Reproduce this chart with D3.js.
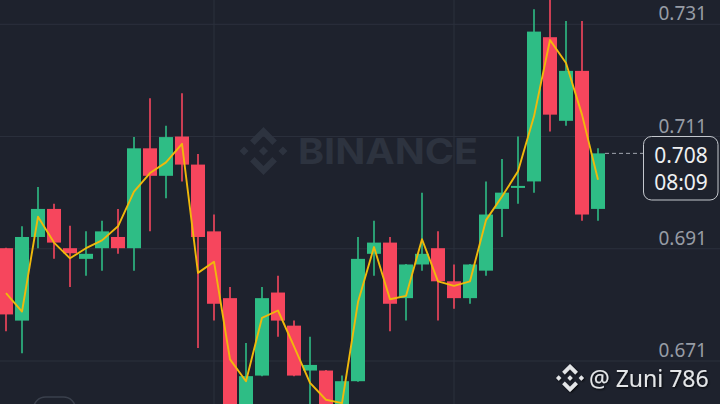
<!DOCTYPE html>
<html>
<head>
<meta charset="utf-8">
<script src="https://cdn.jsdelivr.net/npm/d3@7"></script>
<style>
body { margin: 0; background: #1e222d; overflow: hidden; }
svg { display: block; }
</style>
</head>
<body>
<div id="canvas"></div>
<script>
var width = 720,
	height = 404;

// candle data (oldest first)
var opens  = [0.6911, 0.6782, 0.6931, 0.6981, 0.6911, 0.6892, 0.6911, 0.6931, 0.6911, 0.7089,
              0.7040, 0.7110, 0.7060, 0.6941, 0.6822, 0.6628, 0.6684, 0.6832, 0.6773, 0.6693,
              0.6693, 0.6625, 0.6674, 0.6901, 0.6921, 0.6822, 0.6882, 0.6911, 0.6852, 0.6822,
              0.6871, 0.6981, 0.7020, 0.7030, 0.7287, 0.7138, 0.7227, 0.6981];
var highs  = [0.6912, 0.6950, 0.7020, 0.6990, 0.6951, 0.6941, 0.6960, 0.6981, 0.7109, 0.7178,
              0.7129, 0.7187, 0.7079, 0.6971, 0.6842, 0.6742, 0.6842, 0.6862, 0.6782, 0.6753,
              0.6694, 0.6684, 0.6931, 0.6960, 0.6931, 0.6883, 0.7010, 0.6941, 0.6882, 0.6883,
              0.7030, 0.7070, 0.7110, 0.7337, 0.7355, 0.7316, 0.7316, 0.7089];
var lows   = [0.6763, 0.6724, 0.6911, 0.6892, 0.6842, 0.6862, 0.6871, 0.6901, 0.6871, 0.6941,
              0.7000, 0.7030, 0.6733, 0.6782, 0.6598, 0.6612, 0.6683, 0.6753, 0.6683, 0.6630,
              0.6605, 0.6615, 0.6673, 0.6862, 0.6763, 0.6782, 0.6871, 0.6782, 0.6803, 0.6812,
              0.6862, 0.6931, 0.6990, 0.7010, 0.7119, 0.7129, 0.6960, 0.6960];
var closes = [0.6793, 0.6931, 0.6981, 0.6921, 0.6902, 0.6901, 0.6941, 0.6911, 0.7089, 0.7040,
              0.7109, 0.7060, 0.6931, 0.6812, 0.6615, 0.6683, 0.6822, 0.6782, 0.6684, 0.6703,
              0.6618, 0.6674, 0.6892, 0.6921, 0.6812, 0.6882, 0.6901, 0.6852, 0.6822, 0.6882,
              0.6971, 0.7010, 0.7022, 0.7297, 0.7149, 0.7227, 0.6971, 0.7080];
// yellow average line
var maLine = [0.6831, 0.6798, 0.6967, 0.6921, 0.6893, 0.6911, 0.6925, 0.6950, 0.7012, 0.7045,
              0.7064, 0.7097, 0.6867, 0.6887, 0.6713, 0.6674, 0.6787, 0.6800, 0.6736, 0.6671,
              0.6641, 0.6635, 0.6815, 0.6913, 0.6820, 0.6826, 0.6927, 0.6852, 0.6844, 0.6852,
              0.6961, 0.7003, 0.7048, 0.7146, 0.7282, 0.7241, 0.7149, 0.7033];

var priceTicks = [0.671, 0.691, 0.711, 0.731];
var timeTickIdx = [13, 28];
var lastPrice = "0.708",
	countdown = "08:09";

var green = "#2ebd85",
	red = "#f6465d",
	bg = "#1e222d",
	gridColor = "#2b303c";

var svg = d3.select("#canvas").append("svg")
	.attr("width", width)
	.attr("height", height)
	.style("background-color", bg)

var defs = svg.append("defs");
var shadow = defs.append("filter")
	.attr("id", "shadow")
	.attr("x", "-10%").attr("y", "-30%")
	.attr("width", "130%").attr("height", "160%");
shadow.append("feDropShadow")
	.attr("dx", 1).attr("dy", 1)
	.attr("stdDeviation", 0.8)
	.attr("flood-color", "#000")
	.attr("flood-opacity", 0.8)

var x = d3.scaleLinear().domain([0, opens.length - 1]).range([6, 598]);
var y = d3.scaleLinear().domain([0.671, 0.731]).range([361, 24.3]);
var bodyW = 14;

// grid
svg.selectAll(".hgrid")
	.data(priceTicks)
	.enter()
	.append("line")
	.attr("x1", 0).attr("x2", width)
	.attr("y1", function(d){ return y(d) }).attr("y2", function(d){ return y(d) })
	.attr("stroke", gridColor).attr("stroke-width", 1)

svg.selectAll(".vgrid")
	.data(timeTickIdx)
	.enter()
	.append("line")
	.attr("x1", function(d){ return x(d) }).attr("x2", function(d){ return x(d) })
	.attr("y1", 0).attr("y2", height)
	.attr("stroke", gridColor).attr("stroke-width", 1)

// binance logo
function logoPath(cx, cy, s){
	var shapes = [
		[[0,-1],[0.56,-0.44],[0.37,-0.25],[0,-0.62],[-0.37,-0.25],[-0.56,-0.44]],
		[[0,1],[0.56,0.44],[0.37,0.25],[0,0.62],[-0.37,0.25],[-0.56,0.44]],
		[[0,-0.19],[0.19,0],[0,0.19],[-0.19,0]],
		[[-1,0],[-0.81,-0.19],[-0.62,0],[-0.81,0.19]],
		[[1,0],[0.81,-0.19],[0.62,0],[0.81,0.19]]
	];
	return shapes.map(function(p){
		return "M" + p.map(function(q){ return (cx + q[0]*s) + "," + (cy + q[1]*s) }).join("L") + "Z";
	}).join("");
}

// watermark
svg.append("path")
	.attr("d", logoPath(263.5, 151, 24))
	.attr("fill", "#2d333f")
svg.append("text")
	.attr("x", 298).attr("y", 163.5)
	.attr("textLength", 180)
	.attr("lengthAdjust", "spacingAndGlyphs")
	.style("font-family", "Inter, Roboto, sans-serif")
	.style("font-weight", 700)
	.style("font-size", "36px")
	.attr("fill", "#2d333f")
	.text("BINANCE")

// candles
var candles = svg.selectAll(".candle")
	.data(opens.map(function(o, i){
		return { i: i, o: o, h: highs[i], l: lows[i], c: closes[i] }
	}))
	.enter()
	.append("g")
	.classed("candle", true)

candles.append("line")
	.attr("x1", function(d){ return x(d.i) }).attr("x2", function(d){ return x(d.i) })
	.attr("y1", function(d){ return y(d.h) }).attr("y2", function(d){ return y(d.l) })
	.attr("stroke", function(d){ return d.c >= d.o ? green : red })
	.attr("stroke-width", 1.6)

candles.append("rect")
	.attr("x", function(d){ return x(d.i) - bodyW/2 })
	.attr("width", bodyW)
	.attr("y", function(d){ return y(Math.max(d.o, d.c)) })
	.attr("height", function(d){ return Math.max(2, Math.abs(y(d.o) - y(d.c))) })
	.attr("fill", function(d){ return d.c >= d.o ? green : red })

// average line
svg.append("path")
	.datum(maLine)
	.attr("d", d3.line()
		.x(function(d, i){ return x(i) })
		.y(function(d){ return y(d) }))
	.attr("fill", "none")
	.attr("stroke", "#f0b90b")
	.attr("stroke-width", 1.9)
	.attr("stroke-linejoin", "round")

// right price labels
svg.selectAll(".plabel")
	.data(priceTicks)
	.enter()
	.append("text")
	.attr("x", 707)
	.attr("y", function(d){ return y(d) - 4 })
	.attr("text-anchor", "end")
	.style("font-family", "'Noto Sans', sans-serif")
	.style("font-size", "19px")
	.attr("fill", "#979ca5")
	.text(function(d){ return d3.format(".3f")(d) })

// last price marker
var lastY = y(closes[closes.length - 1]);
svg.append("line")
	.attr("x1", x(opens.length - 1) + bodyW/2).attr("x2", 643)
	.attr("y1", lastY).attr("y2", lastY)
	.attr("stroke", "#a0a5ae")
	.attr("stroke-width", 1)
	.attr("stroke-dasharray", "4,3")
svg.append("rect")
	.attr("x", 643.5).attr("y", 136.5)
	.attr("width", 74.5).attr("height", 63.5)
	.attr("rx", 8)
	.attr("fill", bg)
	.attr("stroke", "#c4c8ce")
	.attr("stroke-width", 1)
svg.append("text")
	.attr("x", 681).attr("y", 162.5)
	.attr("text-anchor", "middle")
	.style("font-family", "'Noto Sans', sans-serif")
	.style("font-size", "21px")
	.attr("fill", "#eef0f2")
	.text(lastPrice)
svg.append("text")
	.attr("x", 681).attr("y", 190)
	.attr("text-anchor", "middle")
	.style("font-family", "'Noto Sans', sans-serif")
	.style("font-size", "21px")
	.attr("fill", "#eef0f2")
	.text(countdown)

// bottom left button outline
svg.append("rect")
	.attr("x", 33.5).attr("y", 397)
	.attr("width", 42).attr("height", 30)
	.attr("rx", 12)
	.attr("fill", "none")
	.attr("stroke", "#3a404c")
	.attr("stroke-width", 1.5)

// author tag
svg.append("path")
	.attr("d", logoPath(570, 378, 14))
	.attr("fill", "#e4e6e8")
	.attr("filter", "url(#shadow)")
svg.append("text")
	.attr("x", 589).attr("y", 387)
	.style("font-family", "'Noto Sans', sans-serif")
	.style("font-size", "23px")
	.attr("fill", "#e4e6e8")
	.attr("filter", "url(#shadow)")
	.text("@ Zuni 786")
</script>
</body>
</html>
